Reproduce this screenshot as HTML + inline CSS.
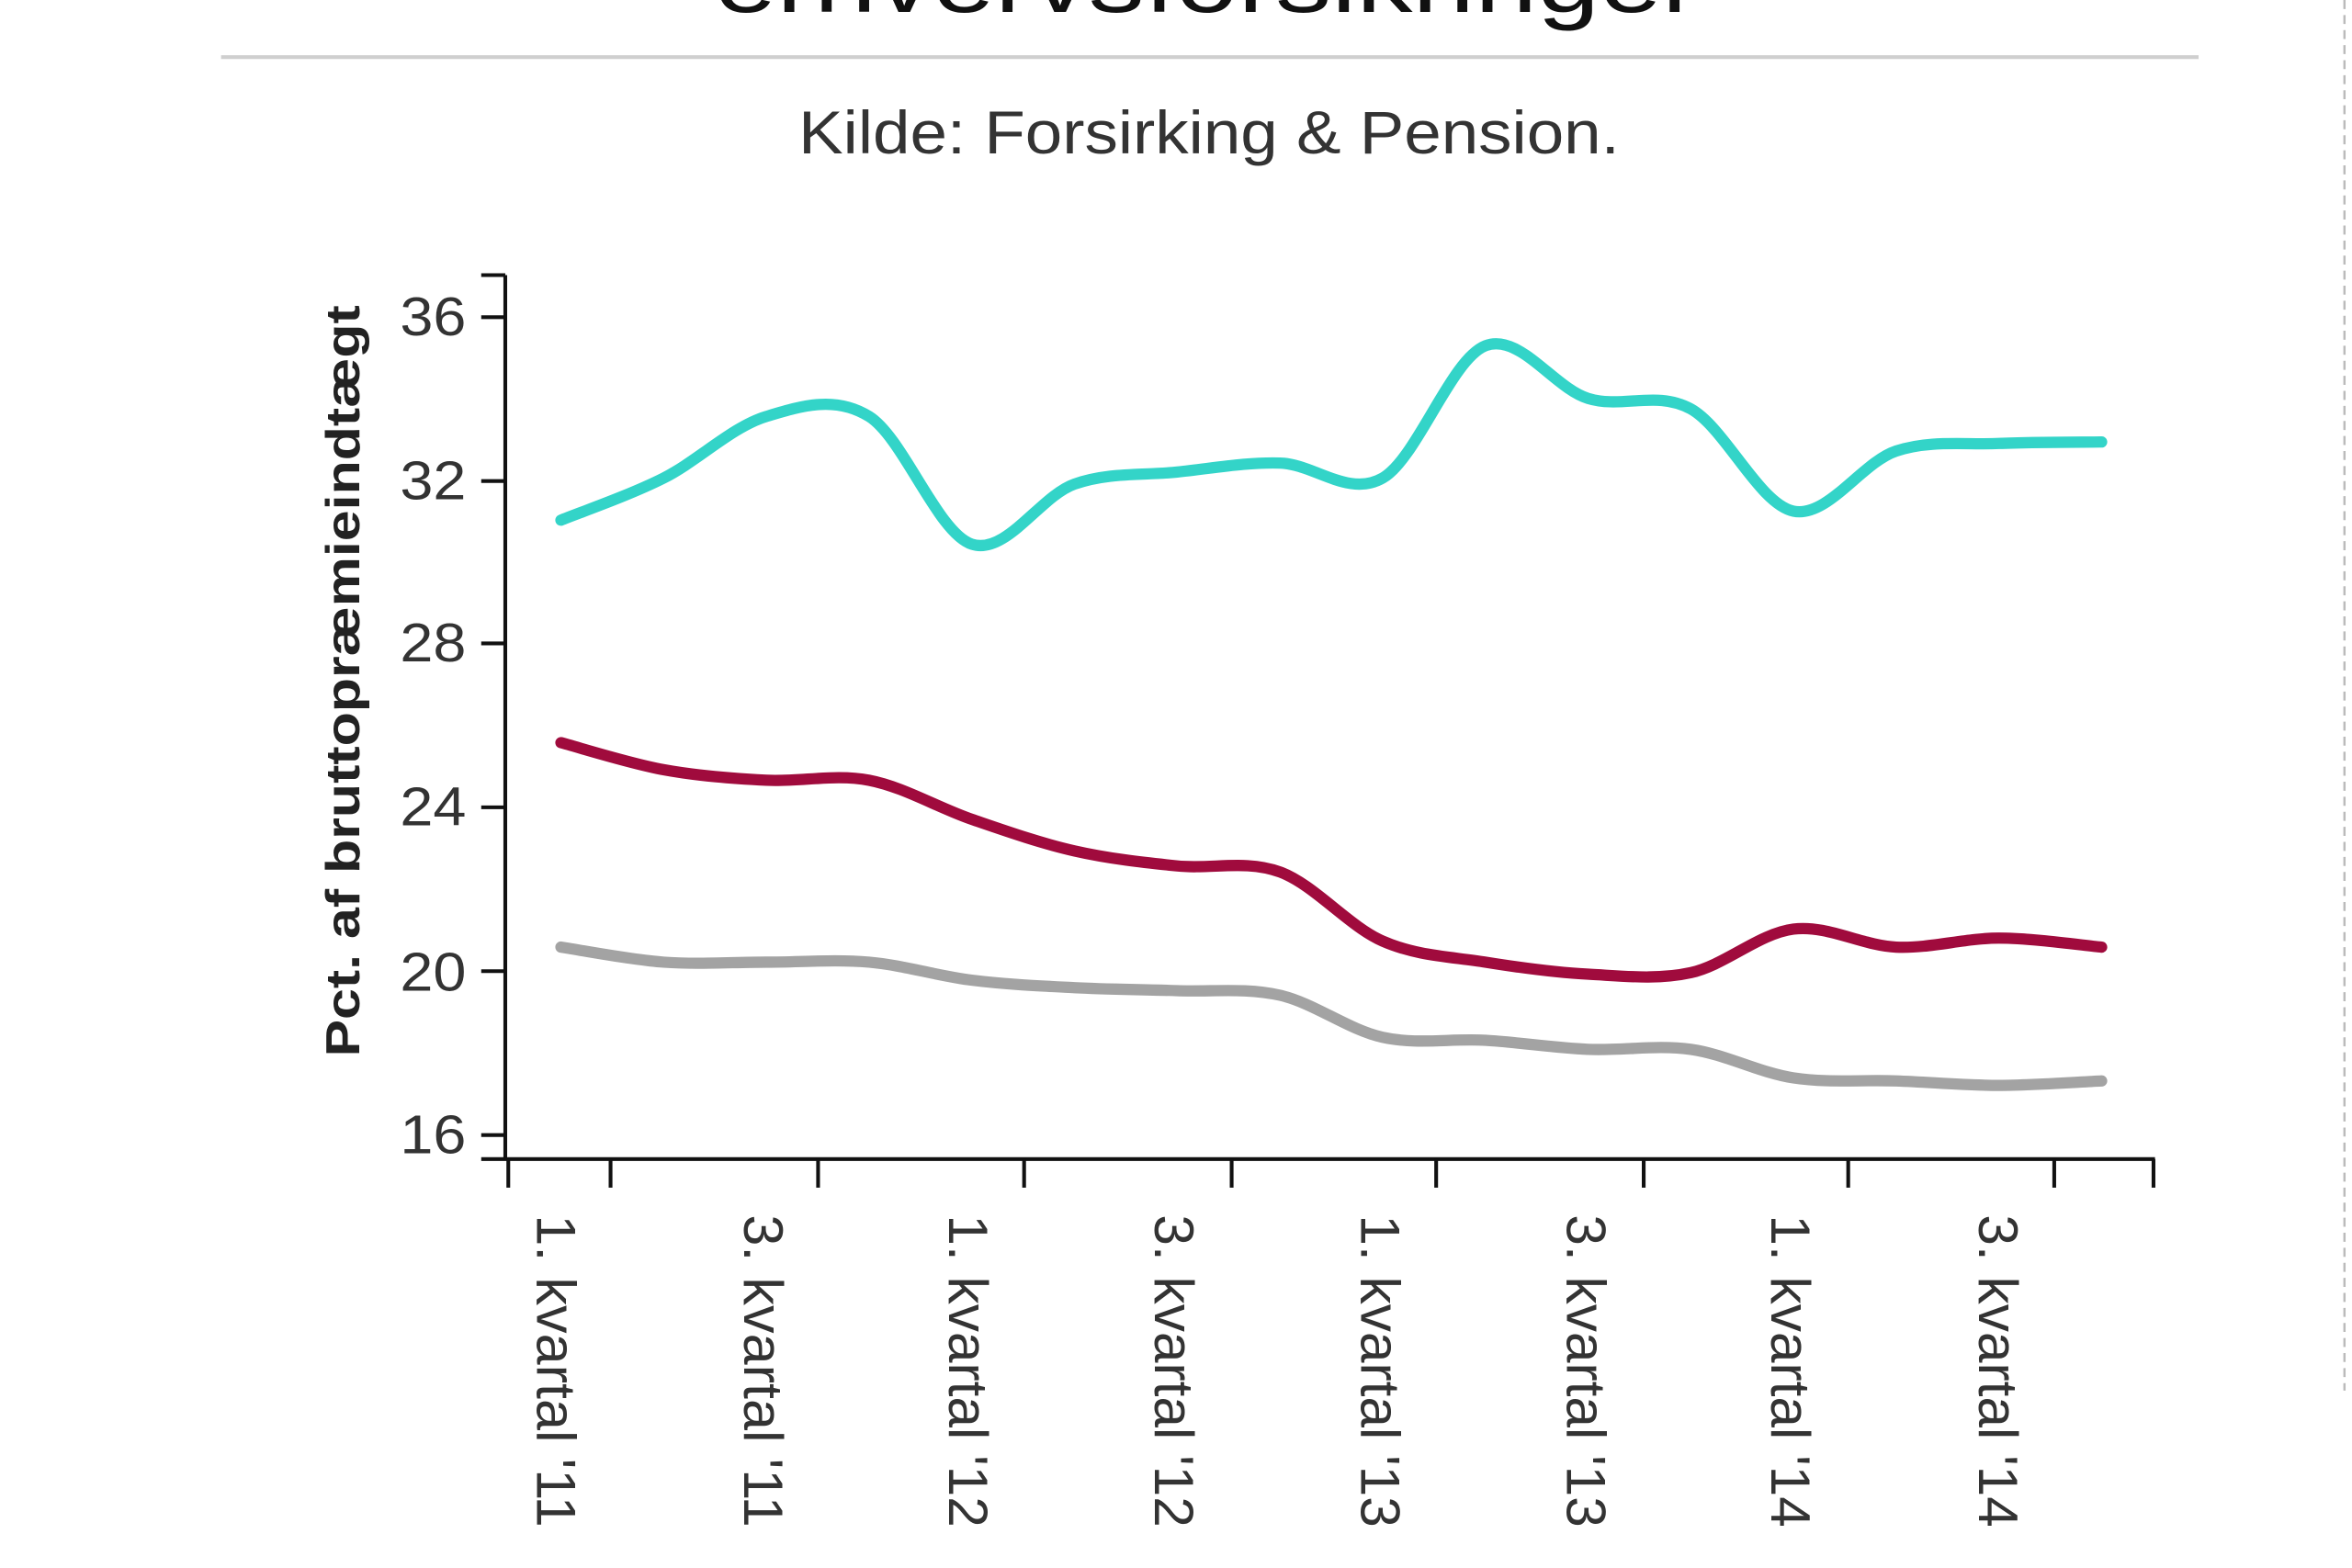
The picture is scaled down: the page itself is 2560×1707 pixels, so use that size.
<!DOCTYPE html>
<html><head><meta charset="utf-8">
<style>
html,body{margin:0;padding:0;background:#fff;}
svg{display:block;}
text{font-family:"Liberation Sans",Arial,sans-serif;}
</style></head>
<body>
<svg id="s" width="2560" height="1707" viewBox="0 0 1564 1043" preserveAspectRatio="none" xmlns="http://www.w3.org/2000/svg">
<rect width="1564" height="1043" fill="#fff"/>
<text x="475" y="8" font-size="60" textLength="655" lengthAdjust="spacingAndGlyphs" fill="#111">erhvervsforsikringer</text>
<line x1="147" y1="38" x2="1462" y2="38" stroke="#cfcfcf" stroke-width="2.5"/>
<text x="531" y="102" font-size="40" textLength="546" lengthAdjust="spacingAndGlyphs" fill="#333">Kilde: Forsirking &amp; Pension.</text>
<line x1="1559" y1="0" x2="1559" y2="925" stroke="#bbb" stroke-width="1.5" stroke-dasharray="6,4"/>
<g stroke="#111" stroke-width="2.5" fill="none">
<line x1="336" y1="183" x2="336" y2="772"/>
<line x1="320" y1="183" x2="336" y2="183"/>
<line x1="320" y1="211" x2="336" y2="211"/>
<line x1="320" y1="320" x2="336" y2="320"/>
<line x1="320" y1="428" x2="336" y2="428"/>
<line x1="320" y1="537" x2="336" y2="537"/>
<line x1="320" y1="646" x2="336" y2="646"/>
<line x1="320" y1="755" x2="336" y2="755"/>
<line x1="320" y1="771" x2="336" y2="771"/>
<line x1="336" y1="771" x2="1433" y2="771"/>
<line x1="338" y1="771" x2="338" y2="790"/>
<line x1="406" y1="771" x2="406" y2="790"/>
<line x1="544" y1="771" x2="544" y2="790"/>
<line x1="681" y1="771" x2="681" y2="790"/>
<line x1="819" y1="771" x2="819" y2="790"/>
<line x1="955" y1="771" x2="955" y2="790"/>
<line x1="1093" y1="771" x2="1093" y2="790"/>
<line x1="1229" y1="771" x2="1229" y2="790"/>
<line x1="1366" y1="771" x2="1366" y2="790"/>
<line x1="1432" y1="771" x2="1432" y2="790"/>
</g>
<g font-size="36" fill="#333">
<text x="266" y="223" textLength="44" lengthAdjust="spacingAndGlyphs">36</text>
<text x="266" y="332" textLength="44" lengthAdjust="spacingAndGlyphs">32</text>
<text x="266" y="440" textLength="44" lengthAdjust="spacingAndGlyphs">28</text>
<text x="266" y="549" textLength="44" lengthAdjust="spacingAndGlyphs">24</text>
<text x="266" y="659" textLength="44" lengthAdjust="spacingAndGlyphs">20</text>
<text x="266" y="767" textLength="44" lengthAdjust="spacingAndGlyphs">16</text>
</g>
<text transform="translate(239,703) rotate(-90)" font-size="32" font-weight="bold" fill="#222" textLength="500" lengthAdjust="spacingAndGlyphs">Pct. af bruttopræmieindtægt</text>
<g font-size="37" fill="#333" id="xl"></g>
<g id="lines" fill="none" stroke-width="7.5" stroke-linecap="round" stroke-linejoin="round"></g>
</svg>
<script>
var xs=[];for(var i=0;i<16;i++)xs.push(373+68.3*i);
function path(ys){
 var p=[];for(var i=0;i<16;i++)p.push([xs[i],ys[i]]);
 var d="M"+p[0][0]+","+p[0][1];
 for(var i=0;i<p.length-1;i++){
  var p0=p[i-1]||p[i],p1=p[i],p2=p[i+1],p3=p[i+2]||p2;
  var c1x=p1[0]+(p2[0]-p0[0])/6,c1y=p1[1]+(p2[1]-p0[1])/6;
  var c2x=p2[0]-(p3[0]-p1[0])/6,c2y=p2[1]-(p3[1]-p1[1])/6;
  d+=" C"+c1x+","+c1y+" "+c2x+","+c2y+" "+p2[0]+","+p2[1];
 }
 return d;
}
var series=[
 ["#a3a3a3",[630,640,640,640,652,657,659,662,690,692,698,698,717,719,722,719]],
 ["#a00b3d",[494,512,519,519,545,566,576,580,626,640,648,647,618,630,624,630]],
 ["#33d4c8",[346,318,277,277,362,322,314,308,318,230,265,272,340,300,295,294]]
];
var g=document.getElementById("lines"),NS="http://www.w3.org/2000/svg";
series.forEach(function(s){var e=document.createElementNS(NS,"path");e.setAttribute("d",path(s[1]));e.setAttribute("stroke",s[0]);g.appendChild(e);});
var labs=["1. kvartal '11","3. kvartal '11","1. kvartal '12","3. kvartal '12","1. kvartal '13","3. kvartal '13","1. kvartal '14","3. kvartal '14"];
var lx=[357,495,631,768,905,1042,1178,1316];
var xl=document.getElementById("xl");
labs.forEach(function(t,i){var e=document.createElementNS(NS,"text");e.setAttribute("transform","translate("+lx[i]+",808) rotate(90)");e.setAttribute("textLength","208");e.setAttribute("lengthAdjust","spacingAndGlyphs");e.textContent=t;xl.appendChild(e);});
</script>
</body></html>
